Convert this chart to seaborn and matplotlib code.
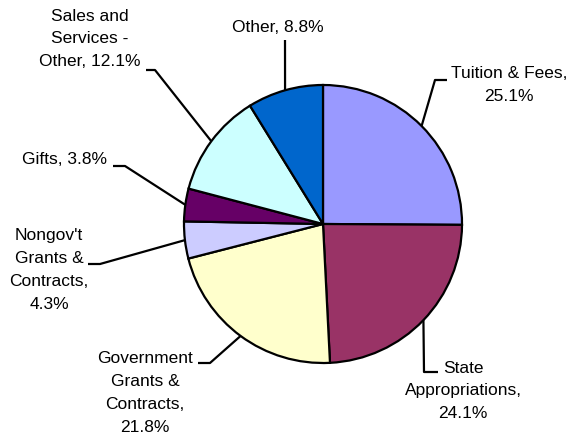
import matplotlib
matplotlib.use("Agg")
import matplotlib.pyplot as plt
import seaborn as sns
import numpy as np

# Данные
categories = ["Tuition & Fees", "State\nAppropriations", "Government\nGrants &\nContracts",
              "Nongov't\nGrants &\nContracts", "Gifts", "Sales and\nServices -\nOther", "Other"]
shares = [25.1, 24.1, 21.8, 4.3, 3.8, 12.1, 8.8]
colors = ["#9999FF", "#993366", "#FFFFCC", "#CCCCFF", "#660066", "#CCFFFF", "#0066CC"]
# подпись в две строки: имя на первой, процент на следующей
two_line = [True, True, True, True, False, False, False]

# Раскладка в пикселях (центр круга, радиус, подписи, изломы выносок)
W, H = 570, 442
CX, CY, R = 323, 224, 139
label_px = [(509, 85), (463, 391), (145, 393), (49, 270), (65, 160), (90, 39), (278, 28)]
elbow_px = [[(435, 80), (447, 80)], [(424, 372), (438, 372)], [(210, 363), (198, 363)],
            [(100, 264), (88, 264)], [(125, 166), (113, 166)], [(155, 70), (146, 70)],
            [(285, 40)]]


def to_data(p):
    return ((p[0] - CX) / R, (CY - p[1]) / R)


sns.set_theme(style="white")
plt.rcParams['font.family'] = ['Liberation Sans', 'DejaVu Sans']

fig = plt.figure(figsize=(W / 100, H / 100), dpi=100)
ax = fig.add_axes([0, 0, 1, 1])

wedges, _ = ax.pie(shares, colors=colors, startangle=90, counterclock=False, radius=1,
                   wedgeprops=dict(edgecolor="black", linewidth=1.6))

ax.set_xlim(-CX / R, (W - CX) / R)
ax.set_ylim(-(H - CY) / R, CY / R)
ax.set_aspect("equal")
ax.axis("off")

for i, w in enumerate(wedges):
    mid = np.deg2rad((w.theta1 + w.theta2) / 2)
    pts = [(np.cos(mid), np.sin(mid))] + [to_data(p) for p in elbow_px[i]]
    xs, ys = zip(*pts)
    ax.plot(xs, ys, color="black", lw=1.6, solid_capstyle="butt")
    sep = ",\n" if two_line[i] else ", "
    txt = "{}{}{:.1f}%".format(categories[i], sep, shares[i])
    lx, ly = to_data(label_px[i])
    ax.text(lx, ly, txt, ha="center", va="center", multialignment="center",
            fontsize=12.5, color="black", linespacing=1.65)

fig.savefig("out.png", dpi=100)
plt.close(fig)
